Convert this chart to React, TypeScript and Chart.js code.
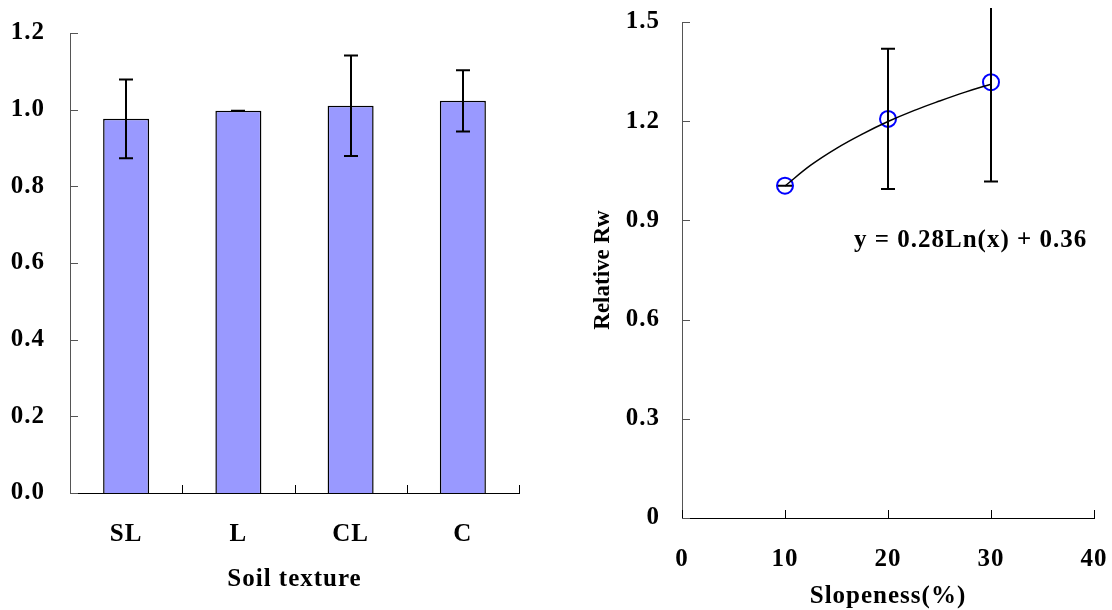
import React, { useEffect, useRef } from 'react';
import { Chart, registerables } from 'chart.js';

Chart.register(...registerables);

// ---------- data ----------
const soilCategories = ['SL', 'L', 'CL', 'C'];
const soilRw = [0.976, 0.997, 1.01, 1.023];
const soilErr = [0.103, 0, 0.131, 0.08];
const soilYTicks = [0, 0.2, 0.4, 0.6, 0.8, 1.0, 1.2];

const slopeX = [10, 20, 30];
const slopeRw = [1.005, 1.207, 1.318];
const slopeErr = [0, 0.212, 0.3];
const trendX = [10, 12.5, 15, 17.5, 20, 22.5, 25, 27.5, 30];
const trendY = [1.004, 1.067, 1.118, 1.161, 1.199, 1.232, 1.261, 1.288, 1.312];
const slopeXTicks = [0, 10, 20, 30, 40];
const slopeYTicks = [0, 0.3, 0.6, 0.9, 1.2, 1.5];
const equationText = 'y = 0.28Ln(x) + 0.36';
const equationPos = { x: 16.7, y: 0.84 };

const FONT = '"Liberation Serif", "Times New Roman", serif';

// ---------- plugins ----------
const spacingPlugin = {
  id: 'spacing',
  beforeDraw(chart: any) {
    (chart.ctx as any).letterSpacing = '1px';
  },
};

function zeroPad(s: any) {
  s.paddingTop = 0;
  s.paddingBottom = 0;
  s.paddingLeft = 0;
  s.paddingRight = 0;
}

function errorBarPlugin(dsIndex: number, values: number[], errs: number[], clipExtra: number) {
  return {
    id: 'errorBars' + dsIndex,
    afterDatasetsDraw(chart: any) {
      const ctx = chart.ctx;
      const meta = chart.getDatasetMeta(dsIndex);
      const y = chart.scales.y;
      const a = chart.chartArea;
      ctx.save();
      ctx.beginPath();
      ctx.rect(a.left - 30, a.top - clipExtra, a.right - a.left + 60, a.bottom - a.top + clipExtra + 30);
      ctx.clip();
      ctx.strokeStyle = '#000';
      ctx.lineWidth = 2;
      const cap = 7;
      meta.data.forEach((el: any, i: number) => {
        const v = values[i];
        const e = errs[i];
        const x = Math.round(el.x);
        const yTop = y.getPixelForValue(v + e);
        const yBot = y.getPixelForValue(v - e);
        ctx.beginPath();
        ctx.moveTo(x, yTop);
        ctx.lineTo(x, yBot);
        ctx.moveTo(x - cap, yTop);
        ctx.lineTo(x + cap, yTop);
        ctx.moveTo(x - cap, yBot);
        ctx.lineTo(x + cap, yBot);
        ctx.stroke();
      });
      ctx.restore();
    },
  };
}

function inwardTicksPlugin(xPositions: (chart: any) => number[], yColor: string) {
  return {
    id: 'inwardTicks',
    afterDraw(chart: any) {
      const ctx = chart.ctx;
      const a = chart.chartArea;
      const ys = chart.scales.y;
      ctx.save();
      ctx.lineWidth = 1;
      ctx.strokeStyle = yColor;
      ys.ticks.forEach((t: any) => {
        const py = Math.round(ys.getPixelForValue(t.value)) + 0.5;
        ctx.beginPath();
        ctx.moveTo(a.left, py);
        ctx.lineTo(a.left + 8, py);
        ctx.stroke();
      });
      ctx.strokeStyle = '#000';
      xPositions(chart).forEach((px) => {
        const x = Math.round(px) + 0.5;
        ctx.beginPath();
        ctx.moveTo(x, a.bottom);
        ctx.lineTo(x, a.bottom - 8);
        ctx.stroke();
      });
      ctx.restore();
    },
  };
}

const tickFont = { family: FONT, size: 25, weight: 'bold' as const };

// ---------- charts ----------
function SoilChart() {
  const ref = useRef<HTMLCanvasElement>(null);
  useEffect(() => {
    const chart = new Chart(ref.current!, {
      type: 'bar',
      data: {
        labels: soilCategories,
        datasets: [
          {
            data: soilRw,
            backgroundColor: '#9999FF',
            borderColor: '#000',
            borderWidth: 1.5,
            barPercentage: 0.41,
            categoryPercentage: 1.0,
          },
        ],
      },
      options: {
        responsive: false,
        animation: false,
        devicePixelRatio: 1,
        layout: { padding: { top: 33, right: 37, left: 0, bottom: 0 } },
        plugins: { legend: { display: false }, tooltip: { enabled: false } },
        scales: {
          x: {
            grid: { display: false, drawTicks: false },
            border: { display: true, color: '#000', width: 1 },
            ticks: { color: '#000', font: tickFont, padding: 27 },
            title: {
              display: true,
              text: 'Soil texture',
              color: '#000',
              font: tickFont,
              padding: { top: 0, bottom: 15 },
            },
            afterFit: (s: any) => {
              s.height = 117;
              zeroPad(s);
            },
          },
          y: {
            min: 0,
            max: 1.2,
            grid: { display: false, drawTicks: false },
            border: { display: true, color: '#555', width: 1 },
            ticks: {
              color: '#000',
              font: tickFont,
              padding: 25,
              callback: (v: any) => Number(v).toFixed(1),
            },
            afterBuildTicks: (s: any) => {
              s.ticks = soilYTicks.map((v) => ({ value: v }));
            },
            afterFit: (s: any) => {
              s.width = 70;
              zeroPad(s);
            },
          },
        },
      },
      plugins: [
        spacingPlugin,
        errorBarPlugin(0, soilRw, soilErr, 20),
        inwardTicksPlugin(
          (c: any) => soilCategories.map((_, i) => c.scales.x.getPixelForValue(i + 0.5)),
          '#555'
        ),
      ],
    } as any);
    return () => chart.destroy();
  }, []);
  return (
    <canvas
      ref={ref}
      width={556}
      height={610}
      style={{ position: 'absolute', left: 0, top: 0, width: 556, height: 610 }}
    />
  );
}

function SlopeChart() {
  const ref = useRef<HTMLCanvasElement>(null);
  useEffect(() => {
    const textPlugin = {
      id: 'texts',
      afterDraw(chart: any) {
        const ctx = chart.ctx;
        const a = chart.chartArea;
        const xs = chart.scales.x;
        const ys = chart.scales.y;
        ctx.save();
        ctx.fillStyle = '#000';
        ctx.letterSpacing = '1px';
        ctx.font = `bold 25px ${FONT}`;
        ctx.textAlign = 'left';
        ctx.textBaseline = 'middle';
        ctx.fillText(equationText, xs.getPixelForValue(equationPos.x), ys.getPixelForValue(equationPos.y));
        ctx.letterSpacing = '0px';
        ctx.translate(47, (a.top + a.bottom) / 2);
        ctx.rotate(-Math.PI / 2);
        ctx.font = `bold 23px ${FONT}`;
        ctx.textAlign = 'center';
        ctx.fillText('Relative Rw', 0, 0);
        ctx.restore();
      },
    };
    const chart = new Chart(ref.current!, {
      type: 'scatter',
      data: {
        datasets: [
          {
            type: 'line',
            data: trendX.map((x, i) => ({ x, y: trendY[i] })),
            borderColor: '#000',
            borderWidth: 1.5,
            pointRadius: 0,
            tension: 0.4,
            fill: false,
          },
          {
            type: 'scatter',
            data: slopeX.map((x, i) => ({ x, y: slopeRw[i] })),
            pointRadius: 8,
            pointBorderWidth: 2,
            pointBorderColor: '#0000FF',
            pointBackgroundColor: 'rgba(0,0,0,0)',
            borderColor: '#0000FF',
            backgroundColor: 'rgba(0,0,0,0)',
          },
        ],
      },
      options: {
        responsive: false,
        animation: false,
        devicePixelRatio: 1,
        layout: { padding: { top: 22, right: 18, left: 0, bottom: 0 } },
        plugins: { legend: { display: false }, tooltip: { enabled: false } },
        scales: {
          x: {
            type: 'linear',
            min: 0,
            max: 40,
            grid: { display: false, drawTicks: false },
            border: { display: true, color: '#000', width: 1 },
            ticks: { color: '#000', font: tickFont, padding: 27 },
            afterBuildTicks: (s: any) => {
              s.ticks = slopeXTicks.map((v) => ({ value: v }));
            },
            title: {
              display: true,
              text: 'Slopeness(%)',
              color: '#000',
              font: tickFont,
              padding: { top: 0, bottom: -2 },
            },
            afterFit: (s: any) => {
              s.height = 92;
              zeroPad(s);
            },
          },
          y: {
            type: 'linear',
            min: 0,
            max: 1.5,
            grid: { display: false, drawTicks: false },
            border: { display: true, color: '#555', width: 1 },
            ticks: {
              color: '#000',
              font: tickFont,
              padding: 22,
              callback: (v: any) => (Number(v) === 0 ? '0' : Number(v).toFixed(1)),
            },
            afterBuildTicks: (s: any) => {
              s.ticks = slopeYTicks.map((v) => ({ value: v }));
            },
            afterFit: (s: any) => {
              s.width = 126;
              zeroPad(s);
            },
          },
        },
      },
      plugins: [
        spacingPlugin,
        errorBarPlugin(1, slopeRw, slopeErr, 14),
        inwardTicksPlugin(
          (c: any) => slopeXTicks.map((v) => c.scales.x.getPixelForValue(v)),
          '#555'
        ),
        textPlugin,
      ],
    } as any);
    return () => chart.destroy();
  }, []);
  return (
    <canvas
      ref={ref}
      width={556}
      height={610}
      style={{ position: 'absolute', left: 556, top: 0, width: 556, height: 610 }}
    />
  );
}

export default function App() {
  return (
    <div
      style={{
        position: 'fixed',
        left: 0,
        top: 0,
        width: 1112,
        height: 610,
        background: '#fff',
        overflow: 'hidden',
      }}
    >
      <SoilChart />
      <SlopeChart />
    </div>
  );
}
